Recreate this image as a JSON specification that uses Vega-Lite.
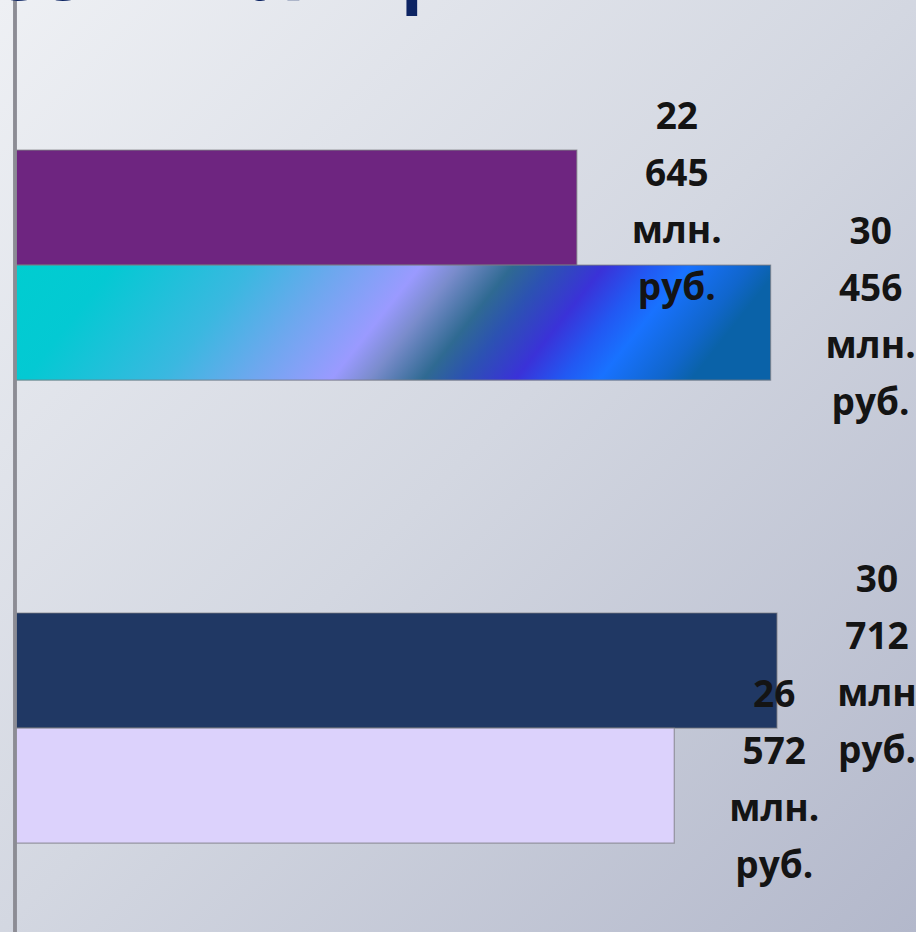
{
  "$schema": "https://vega.github.io/schema/vega-lite/v6.json",
  "width": 916,
  "height": 932,
  "autosize": {"type": "none"},
  "padding": 0,
  "background": "#d6d9e3",
  "title": {
    "text": "ческих лиц",
    "anchor": "start",
    "fontSize": 80,
    "font": "Open Sans",
    "fontWeight": "bold",
    "color": "#0d2463",
    "baseline": "alphabetic",
    "offset": -81,
    "dx": -61
  },
  "config": {
    "view": {
      "stroke": null,
      "fill": {
        "gradient": "linear",
        "x1": 0, "y1": 0, "x2": 1, "y2": 1,
        "stops": [
          {"offset": 0, "color": "#eef0f4"},
          {"offset": 0.5, "color": "#d3d7e1"},
          {"offset": 1, "color": "#b3b8cb"}
        ]
      }
    }
  },
  "data": {
    "values": [
      {"group": "1", "series": "a", "bar": "p", "value": 22645, "label": "22\n645\nмлн.\nруб."},
      {"group": "1", "series": "b", "bar": "g", "value": 30456, "label": "30\n456\nмлн.\nруб."},
      {"group": "2", "series": "a", "bar": "n", "value": 30712, "label": "30\n712\nмлн\nруб."},
      {"group": "2", "series": "b", "bar": "l", "value": 26572, "label": "26\n572\nмлн.\nруб."}
    ]
  },
  "encoding": {
    "y": {
      "field": "group",
      "type": "nominal",
      "axis": null,
      "scale": {"domain": ["1", "2"], "paddingInner": 0.503, "paddingOuter": 0.258, "align": 0.628}
    },
    "yOffset": {
      "field": "series",
      "type": "nominal",
      "scale": {"domain": ["a", "b"], "paddingInner": 0, "paddingOuter": 0}
    },
    "x": {
      "field": "value",
      "type": "quantitative",
      "axis": null,
      "scale": {"domain": [-604, 36315], "nice": false, "zero": false}
    }
  },
  "layer": [
    {
      "transform": [{"filter": "datum.bar !== 'g'"}],
      "mark": {"type": "bar", "stroke": "#7a7a80", "strokeWidth": 1.2, "strokeOpacity": 0.7},
      "encoding": {
        "x2": {"datum": 0},
        "color": {
          "field": "bar",
          "type": "nominal",
          "legend": null,
          "scale": {"domain": ["p", "g", "n", "l"], "range": ["#6e2580", "#00cdd0", "#203864", "#dcd2fc"]}
        }
      }
    },
    {
      "transform": [{"filter": "datum.bar === 'g'"}],
      "mark": {
        "type": "bar",
        "stroke": "#7a7a80",
        "strokeWidth": 1.2,
        "strokeOpacity": 0.7,
        "color": {
          "gradient": "linear",
          "x1": 0, "y1": 0, "x2": 1, "y2": 0.12,
          "stops": [
            {"offset": 0, "color": "#00cdd0"},
            {"offset": 0.13, "color": "#04c9d3"},
            {"offset": 0.31, "color": "#3ab8e0"},
            {"offset": 0.42, "color": "#6ca8ee"},
            {"offset": 0.53, "color": "#9a9aff"},
            {"offset": 0.58, "color": "#7a8ccc"},
            {"offset": 0.65, "color": "#2f6a92"},
            {"offset": 0.7, "color": "#2c52b2"},
            {"offset": 0.77, "color": "#3a32d8"},
            {"offset": 0.83, "color": "#2258f2"},
            {"offset": 0.88, "color": "#1872ff"},
            {"offset": 0.96, "color": "#1066cc"},
            {"offset": 1, "color": "#0a62a8"}
          ]
        }
      },
      "encoding": {"x2": {"datum": 0}}
    },
    {
      "mark": {
        "type": "text",
        "align": "center",
        "baseline": "middle",
        "dx": 100,
        "dy": -90,
        "font": "Open Sans",
        "fontWeight": "bold",
        "fontSize": 37,
        "lineHeight": 57,
        "lineBreak": "\n",
        "color": "#141414"
      },
      "encoding": {"text": {"field": "label", "type": "nominal"}}
    },
    {
      "mark": {"type": "rule", "color": "#8c8c94", "strokeWidth": 3},
      "encoding": {"x": {"datum": 0}, "y": null, "yOffset": null}
    }
  ]
}
